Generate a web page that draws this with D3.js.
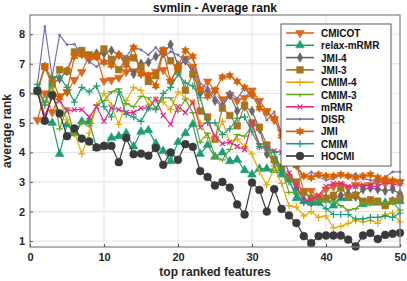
<!DOCTYPE html>
<html>
<head>
<meta charset="utf-8">
<script src="https://cdn.jsdelivr.net/npm/d3@7"></script>
<style>
  body { margin: 0; background: #fff; }
  text { font-family: "Liberation Sans", Arial, sans-serif; }
</style>
</head>
<body>
<div id="chart"></div>
<script>
// x values: top ranked features 1..50
var features = d3.range(1, 51);

var seriesNames = ["CMICOT", "relax-mRMR", "JMI-4", "JMI-3", "CMIM-4", "CMIM-3", "mRMR", "DISR", "JMI", "CMIM", "HOCMI"];
var seriesColors = ["#e0661a", "#1b9e77", "#666666", "#a6761d", "#e6ab02", "#66a61e", "#e7298a", "#7570b3", "#d95f02", "#1b9e77", "#3a3a3a"];
var seriesMarkers = ["triDown", "triUp", "diamond", "square", "plus", "dash", "cross", "dot", "hexagram", "plus", "circle"];

var xTicks = [0, 10, 20, 30, 40, 50];
var yTicks = [1, 2, 3, 4, 5, 6, 7, 8];

var CMICOT = [5.1, 6.0, 5.36, 5.9, 6.05, 6.45, 6.72, 7.28, 7.25, 6.42,
  6.45, 6.53, 6.73, 6.75, 6.68, 6.62, 6.73, 6.79, 6.4, 6.85,
  7.18, 6.9, 6.1, 6.4, 6.1, 5.8, 5.95, 5.75, 5.85, 6.1,
  5.75, 5.4, 5.1, 4.7, 4.2, 3.6, 2.7, 2.7, 2.5, 2.75,
  2.85, 2.9, 2.8, 2.9, 2.85, 2.9, 3.0, 2.95, 3.0, 3.0];
var relaxMRMR = [6.05, 5.1, 5.0, 3.95, 4.95, 4.65, 5.05, 5.05, 4.15, 4.2,
  4.5, 4.55, 4.65, 4.2, 4.7, 4.75, 4.3, 4.05, 3.7, 4.35,
  4.65, 4.95, 3.95, 4.25, 3.85, 4.0, 3.7, 3.75, 3.4, 3.25,
  3.45, 3.45, 3.4, 3.25, 3.1, 2.45, 2.35, 2.3, 2.3, 2.4,
  2.2, 2.45, 2.45, 2.55, 2.25, 2.3, 2.3, 2.3, 2.35, 2.35];
var JMI4 = [6.1, 6.9, 6.3, 6.5, 6.75, 7.35, 7.4, 7.15, 7.35, 7.35,
  7.45, 7.3, 7.1, 6.65, 7.0, 7.05, 7.25, 7.35, 7.65, 6.95,
  7.1, 6.7, 6.0, 6.1, 5.75, 5.55, 5.95, 5.4, 5.55, 5.4,
  4.8, 3.95, 3.7, 3.4, 3.2, 2.8, 2.4, 2.3, 2.4, 2.45,
  2.45, 2.55, 2.6, 2.5, 2.75, 2.8, 2.75, 2.7, 2.75, 2.6];
var JMI3 = [6.1, 6.9, 6.3, 6.8, 6.75, 7.4, 7.45, 7.3, 7.25, 7.5,
  7.15, 6.8, 7.15, 7.2, 6.9, 6.4, 6.6, 7.45, 7.1, 6.8,
  6.1, 6.65, 5.4, 5.2, 4.45, 5.5, 5.25, 4.9, 5.6, 5.0,
  4.85, 4.25, 3.75, 3.5, 3.15, 3.0, 2.65, 2.45, 2.4, 2.45,
  2.55, 2.8, 2.5, 2.55, 2.35, 2.4, 2.35, 2.2, 2.35, 2.45];
var CMIM4 = [6.1, 5.6, 6.2, 5.8, 5.1, 4.7, 3.95, 4.65, 5.6, 6.0,
  5.6, 4.95, 5.75, 6.2, 6.1, 5.6, 5.8, 5.7, 5.45, 6.05,
  5.85, 5.7, 5.0, 4.5, 4.5, 5.05, 4.35, 4.45, 4.2, 3.95,
  3.35, 2.9, 3.45, 2.95, 2.2, 2.15, 1.85, 2.0, 1.8, 1.85,
  1.45, 1.5, 1.6, 1.7, 1.65, 1.7, 1.6, 1.9, 1.95, 1.65];
var CMIM3 = [6.1, 5.7, 6.3, 4.8, 5.5, 4.6, 5.0, 4.9, 5.6, 5.75,
  6.05, 6.15, 5.65, 5.55, 5.9, 5.85, 5.5, 5.85, 5.85, 5.4,
  5.8, 5.35, 4.35, 4.65, 3.85, 3.75, 4.1, 4.6, 4.55, 4.9,
  4.3, 4.2, 3.55, 3.45, 2.65, 2.65, 2.3, 2.3, 2.35, 2.35,
  2.35, 2.2, 2.05, 2.1, 2.3, 2.25, 2.3, 2.3, 2.3, 2.05];
var mRMR = [6.1, 5.25, 5.85, 5.75, 5.4, 5.45, 5.45, 5.2, 5.55, 5.05,
  5.5, 5.45, 5.35, 5.35, 5.5, 5.5, 5.8, 5.25, 4.95, 5.55,
  5.35, 5.7, 4.85, 5.05, 4.55, 4.3, 4.35, 4.2, 4.1, 5.0,
  4.2, 4.15, 4.05, 4.0, 3.3, 2.9, 2.35, 2.4, 2.55, 2.85,
  2.95, 2.95, 2.85, 2.85, 2.9, 2.85, 2.85, 3.0, 2.9, 2.95];
var DISR = [6.3, 8.26, 6.56, 7.97, 7.65, 7.66, 7.3, 7.07, 6.9, 7.15,
  7.0, 7.35, 7.24, 7.58, 7.47, 7.3, 7.55, 7.24, 7.41, 7.3,
  7.07, 7.24, 6.34, 6.17, 5.88, 5.57, 6.05, 5.83, 6.17, 5.88,
  5.66, 5.09, 5.37, 4.64, 3.96, 3.51, 3.17, 3.34, 3.17, 3.06,
  3.11, 3.28, 3.17, 3.28, 3.11, 3.06, 3.0, 3.17, 3.34, 3.34];
var JMI = [6.05, 6.9, 6.5, 5.85, 6.05, 7.25, 7.3, 7.2, 7.25, 7.05,
  6.95, 7.3, 6.95, 7.55, 6.65, 6.6, 6.25, 7.45, 6.4, 6.9,
  7.45, 7.25, 6.15, 5.9, 6.1, 6.55, 6.6, 6.4, 6.2, 5.95,
  5.5, 5.35, 5.15, 4.55, 4.2, 3.55, 3.2, 3.15, 3.25, 3.2,
  3.2, 3.25, 3.2, 3.15, 3.2, 3.25, 3.15, 3.1, 3.05, 3.0];
var CMIM = [6.3, 5.6, 6.55, 6.55, 6.2, 5.7, 6.2, 6.05, 6.25, 5.55,
  5.2, 6.05, 5.3, 5.2, 5.05, 5.5, 5.45, 6.0, 6.2, 6.65,
  6.35, 6.25, 5.85, 5.0, 5.0, 4.6, 4.8, 5.15, 5.2, 4.7,
  4.2, 4.15, 4.0, 3.4, 3.0, 2.6, 2.3, 2.3, 2.3, 2.1,
  1.9, 1.9, 1.9, 1.75, 1.75, 1.8, 1.8, 1.85, 1.8, 1.95];
var HOCMI = [6.08, 5.07, 5.94, 5.32, 4.55, 4.81, 4.47, 4.37, 4.17, 4.22,
  4.22, 3.67, 4.49, 3.94, 3.96, 3.89, 4.15, 3.58, 4.0, 3.75,
  4.28, 4.19, 3.37, 3.17, 2.88, 3.0, 2.81, 2.24, 1.9, 2.98,
  2.73, 2.0, 2.76, 2.09, 1.87, 1.61, 1.17, 0.93, 1.17, 1.19,
  1.19, 1.19, 1.05, 0.82, 1.19, 1.27, 1.07, 1.21, 1.25, 1.28];

var seriesValues = [CMICOT, relaxMRMR, JMI4, JMI3, CMIM4, CMIM3, mRMR, DISR, JMI, CMIM, HOCMI];

var width = 407, height = 281;
var margin = {top: 15, right: 7, bottom: 34, left: 30};

var svg = d3.select("#chart").append("svg")
  .attr("width", width)
  .attr("height", height);

var x = d3.scaleLinear().domain([0, 50]).range([margin.left, width - margin.right]);
var y = d3.scaleLinear().domain([0.8, 8.65]).range([height - margin.bottom, margin.top]);

// grid
svg.append("g").selectAll("line")
  .data(xTicks.slice(1, -1))
  .enter().append("line")
  .attr("x1", function (d) { return x(d); })
  .attr("x2", function (d) { return x(d); })
  .attr("y1", y.range()[0])
  .attr("y2", y.range()[1])
  .attr("stroke", "#e3e3e3");
svg.append("g").selectAll("line")
  .data(yTicks)
  .enter().append("line")
  .attr("x1", x.range()[0])
  .attr("x2", x.range()[1])
  .attr("y1", function (d) { return y(d); })
  .attr("y2", function (d) { return y(d); })
  .attr("stroke", "#e3e3e3");

// six pointed star like matlab 'h'
function hexagram(r) {
  var pts = [];
  for (var k = 0; k < 12; k++) {
    var a = -Math.PI / 2 + k * Math.PI / 6;
    var rr = k % 2 === 0 ? r : r * 0.55;
    pts.push([rr * Math.cos(a), rr * Math.sin(a)]);
  }
  return "M" + pts.join("L") + "Z";
}

// marker shapes
function markerPath(type) {
  if (type === "triDown" || type === "triUp") return d3.symbol().type(d3.symbolTriangle).size(32)();
  if (type === "diamond") return d3.symbol().type(d3.symbolDiamond).size(26)();
  if (type === "square") return d3.symbol().type(d3.symbolSquare).size(44)();
  if (type === "hexagram") return hexagram(4.2);
  if (type === "circle") return d3.symbol().type(d3.symbolCircle).size(48)();
  if (type === "dot") return d3.symbol().type(d3.symbolCircle).size(4)();
  if (type === "plus") return "M-3.5,0H3.5M0,-3.5V3.5";
  if (type === "cross") return "M-2.5,-2.5L2.5,2.5M-2.5,2.5L2.5,-2.5";
  if (type === "dash") return "M-3.5,0H3.5M0,0V2.5";
  return "";
}

function drawMarker(sel, type, color) {
  var filled = ["triDown", "triUp", "diamond", "square", "hexagram", "circle", "dot"].indexOf(type) >= 0;
  sel.append("path")
    .attr("d", markerPath(type))
    .attr("transform", type === "triDown" ? "rotate(180)" : null)
    .attr("fill", filled ? color : "none")
    .attr("stroke", color)
    .attr("stroke-width", filled ? 0.6 : 1.2);
}

var line = d3.line()
  .x(function (d, i) { return x(features[i]); })
  .y(function (d) { return y(d); });

seriesValues.forEach(function (vals, s) {
  var g = svg.append("g");
  g.append("path")
    .datum(vals)
    .attr("d", line)
    .attr("fill", "none")
    .attr("stroke", seriesColors[s])
    .attr("stroke-width", 1.2);
  g.selectAll("g")
    .data(vals)
    .enter().append("g")
    .attr("transform", function (d, i) { return "translate(" + x(features[i]) + "," + y(d) + ")"; })
    .each(function () { drawMarker(d3.select(this), seriesMarkers[s], seriesColors[s]); });
});

// axes box
svg.append("rect")
  .attr("x", x.range()[0])
  .attr("y", y.range()[1])
  .attr("width", x.range()[1] - x.range()[0])
  .attr("height", y.range()[0] - y.range()[1])
  .attr("fill", "none")
  .attr("stroke", "#808080")
  .attr("stroke-width", 1.2);

var xAxis = svg.append("g")
  .attr("transform", "translate(0," + y.range()[0] + ")")
  .call(d3.axisBottom(x).tickValues(xTicks).tickSize(-3).tickPadding(6));
var yAxis = svg.append("g")
  .attr("transform", "translate(" + x.range()[0] + ",0)")
  .call(d3.axisLeft(y).tickValues(yTicks).tickSize(-3).tickPadding(5));
[xAxis, yAxis].forEach(function (a) {
  a.select(".domain").remove();
  a.selectAll(".tick line").attr("stroke", "#555");
  a.selectAll(".tick text")
    .attr("fill", "#262626")
    .style("font-size", "11px")
    .style("font-weight", "bold");
});

// titles
svg.append("text")
  .attr("x", (x.range()[0] + x.range()[1]) / 2)
  .attr("y", 12)
  .attr("text-anchor", "middle")
  .style("font-size", "12px")
  .style("font-weight", "bold")
  .attr("fill", "#111")
  .text("svmlin - Average rank");
svg.append("text")
  .attr("x", (x.range()[0] + x.range()[1]) / 2)
  .attr("y", 276)
  .attr("text-anchor", "middle")
  .style("font-size", "12px")
  .style("font-weight", "bold")
  .attr("fill", "#262626")
  .text("top ranked features");
svg.append("text")
  .attr("transform", "translate(11," + ((y.range()[0] + y.range()[1]) / 2) + ") rotate(-90)")
  .attr("text-anchor", "middle")
  .style("font-size", "12px")
  .style("font-weight", "bold")
  .attr("fill", "#262626")
  .text("average rank");

// legend
var legend = svg.append("g").attr("transform", "translate(281,24)");
legend.append("rect")
  .attr("width", 110)
  .attr("height", 142)
  .attr("fill", "#fff")
  .attr("stroke", "#333")
  .attr("stroke-width", 0.8);
seriesNames.forEach(function (name, s) {
  var row = legend.append("g").attr("transform", "translate(0," + (9 + s * 12.3) + ")");
  row.append("line")
    .attr("x1", 5).attr("x2", 33)
    .attr("stroke", seriesColors[s])
    .attr("stroke-width", 1.6);
  var m = row.append("g").attr("transform", "translate(19,0)");
  drawMarker(m, seriesMarkers[s], seriesColors[s]);
  row.append("text")
    .attr("x", 40)
    .attr("y", 4)
    .style("font-size", "10px")
    .style("font-weight", "bold")
    .attr("fill", "#111")
    .text(name);
});
</script>
</body>
</html>
